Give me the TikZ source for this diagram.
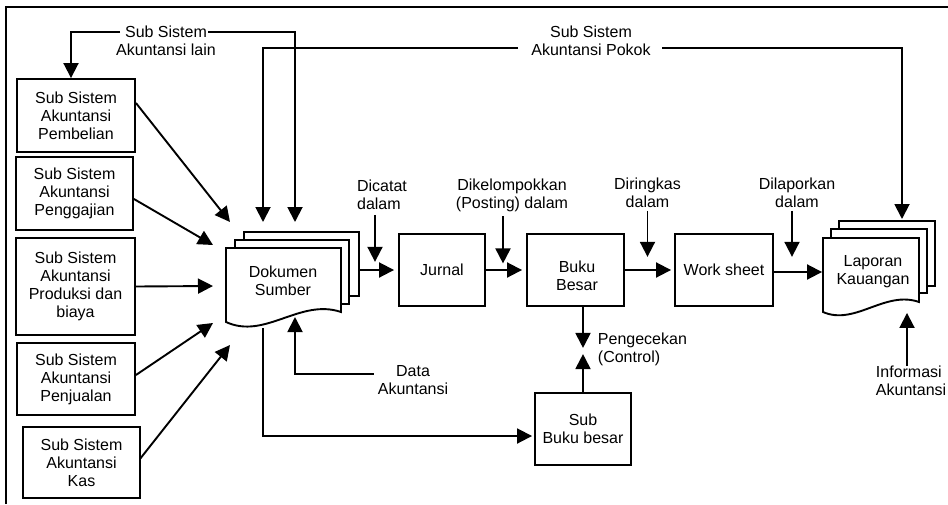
\documentclass[tikz,border=0pt]{standalone}
\usepackage{fontspec}
\setmainfont{Liberation Sans}
\usetikzlibrary{arrows.meta,calc}

\begin{document}
\begin{tikzpicture}[x=1pt,y=-1pt,line width=1.9pt,
  txt/.style={font=\fontsize{16}{18}\selectfont},
  arr/.style={-{Triangle[length=15pt,width=15pt]}},
  box/.style={draw,fill=white,inner sep=0pt,align=center,txt},
  lbl/.style={inner sep=0pt,align=center,txt},
  page/.style={draw,fill=white,inner sep=0pt},
]
\useasboundingbox (0,0) rectangle (948,504);

% outer frame (top and left edges)
\draw (6,504) -- (6,7) -- (948,7);

% subsystem boxes on the left
\node[box,minimum width=118pt,minimum height=73pt] (b1) at (76,115.5) {Sub Sistem\\Akuntansi\\Pembelian};
\node[box,minimum width=117pt,minimum height=73pt] (b2) at (74.5,193.5) {Sub Sistem\\Akuntansi\\Penggajian};
\node[box,minimum width=119pt,minimum height=97pt] (b3) at (75.5,286.5) {Sub Sistem\\Akuntansi\\Produksi dan\\biaya};
\node[box,minimum width=118pt,minimum height=72pt] (b4) at (76,379) {Sub Sistem\\Akuntansi\\Penjualan};
\node[box,minimum width=117pt,minimum height=71pt] (b5) at (81.5,462.5) {Sub Sistem\\Akuntansi\\Kas};

% source documents (stack of three pages)
\node[page,minimum width=115pt,minimum height=64pt] (dokC) at (301.5,264) {};
\node[page,minimum width=114pt,minimum height=64pt] (dokB) at (292,272) {};
\draw[fill=white] (226,248) -- (341,248) -- (341,312)
  .. controls (300,298) and (265,340) .. (226,322) -- cycle;
\node[inner sep=0pt,minimum width=115pt,minimum height=74pt] (dok) at (283.5,285) {};
\node[lbl] (doktxt) at (283,281) {Dokumen\\Sumber};

% journal, ledger, worksheet
\node[box,minimum width=86pt,minimum height=72pt] (jur) at (442,270) {Jurnal};
\node[box,minimum width=97pt,minimum height=72pt] (bb) at (575.5,270) {};
\node[lbl] (bbtxt) at (577,276) {Buku\\Besar};
\node[box,minimum width=98pt,minimum height=72pt] (ws) at (724,270) {Work sheet};
\node[box,minimum width=96pt,minimum height=72pt] (sbb) at (583,429) {Sub\\Buku besar};

% financial report (stack of three pages)
\node[page,minimum width=96pt,minimum height=65pt] (lapC) at (887,253.5) {};
\node[page,minimum width=96pt,minimum height=64pt] (lapB) at (879,261) {};
\draw[fill=white] (823,238) -- (919,238) -- (919,302)
  .. controls (885,290) and (855,326) .. (823,312) -- cycle;
\node[inner sep=0pt,minimum width=96pt,minimum height=74pt] (lap) at (871,275) {};
\node[lbl] (laptxt) at (873,272) {Laporan\\Kauangan};

% text labels
\node[lbl] (lain) at (166,41) {Sub Sistem\\Akuntansi lain};
\node[lbl] (pokok) at (591,41) {Sub Sistem\\Akuntansi Pokok};
\node[lbl,align=left] (dic) at (382,195) {Dicatat\\dalam};
\node[lbl] (post) at (512,195) {Dikelompokkan\\(Posting) dalam};
\node[lbl] (ring) at (647.5,193) {Diringkas\\dalam};
\node[lbl] (lapor) at (797,193) {Dilaporkan\\dalam};
\node[lbl] (data) at (413,380) {Data\\Akuntansi};
\node[lbl,align=left,anchor=west] (cek) at (597,349) {Pengecekan\\(Control)};
\node[lbl,align=left,anchor=west] (info) at (875,381) {Informasi\\Akuntansi};

% free ends of connectors
\coordinate (lainL) at (120,32);
\coordinate (lainR) at (208,32);
\coordinate (pokL) at (518,48);
\coordinate (pokR) at (662,48);
\coordinate (t1) at (230,222);
\coordinate (t2) at (213,245);
\coordinate (t3) at (213,286);
\coordinate (t4) at (213,323);
\coordinate (t5) at (230,345);
\coordinate (dA) at (263,222);
\coordinate (dB) at (295,222);
\coordinate (lapIn) at (902,219);
\coordinate (dataIn) at (295,317);
\coordinate (dokOut) at (263,328);

% other subsystems feeding in
\draw[arr] (lainL) -| ([xshift=-5pt]b1.north);
\draw[arr] (lainR) -| (dB);
\draw[arr] (pokL) -| (dA);
\draw[arr] (pokR) -| (lapIn);

% subsystem boxes to source documents
\draw[arr] ([yshift=12.5pt]b1.east) -- (t1);
\draw[arr] ([yshift=-5.5pt]b2.east) -- (t2);
\draw[arr] (b3.east) -- (t3);
\draw[arr] ([yshift=4pt]b4.east) -- (t4);
\draw[arr] ([yshift=3.5pt,xshift=-1pt]b5.east) -- (t5);

% main flow
\draw[arr,shorten >=4pt] (dokC.east |- jur.west) -- (jur.west);
\draw[arr,shorten >=4pt] (jur.east) -- (bb.west);
\draw[arr,shorten >=3pt] (bb.east) -- (ws.west);
\draw[arr] ([yshift=-2pt]ws.east) -- ([yshift=-2pt]ws.east -| lap.west);

% process labels pointing at the flow
\draw[arr] ([xshift=-7pt,yshift=-4pt]dic.south) -- ++(0,47);
\draw[arr] ([xshift=-9pt,yshift=-4pt]post.south) -- ++(0,47);
\draw[arr] ([yshift=-2pt]ring.south) -- ++(0,46);
\draw[arr] ([xshift=-5pt,yshift=-2pt]lapor.south) -- ++(0,46);

% accounting data into source documents
\draw[arr] ([yshift=6pt,xshift=-3pt]data.west) -| (dataIn);
% source documents to subsidiary ledger
\draw[arr,shorten >=2pt] (dokOut) |- ([yshift=-7pt]sbb.west);

% ledger check against subsidiary ledger
\draw[arr] (bb.south -| sbb.north) -- ++(0,41);
\draw[arr] (sbb.north) -- ++(0,-38);

% accounting information into report
\draw[arr] ([xshift=32pt,yshift=-1pt]info.north west) -- ([xshift=32pt]info.north west |- lap.south);
\end{tikzpicture}
\end{document}
